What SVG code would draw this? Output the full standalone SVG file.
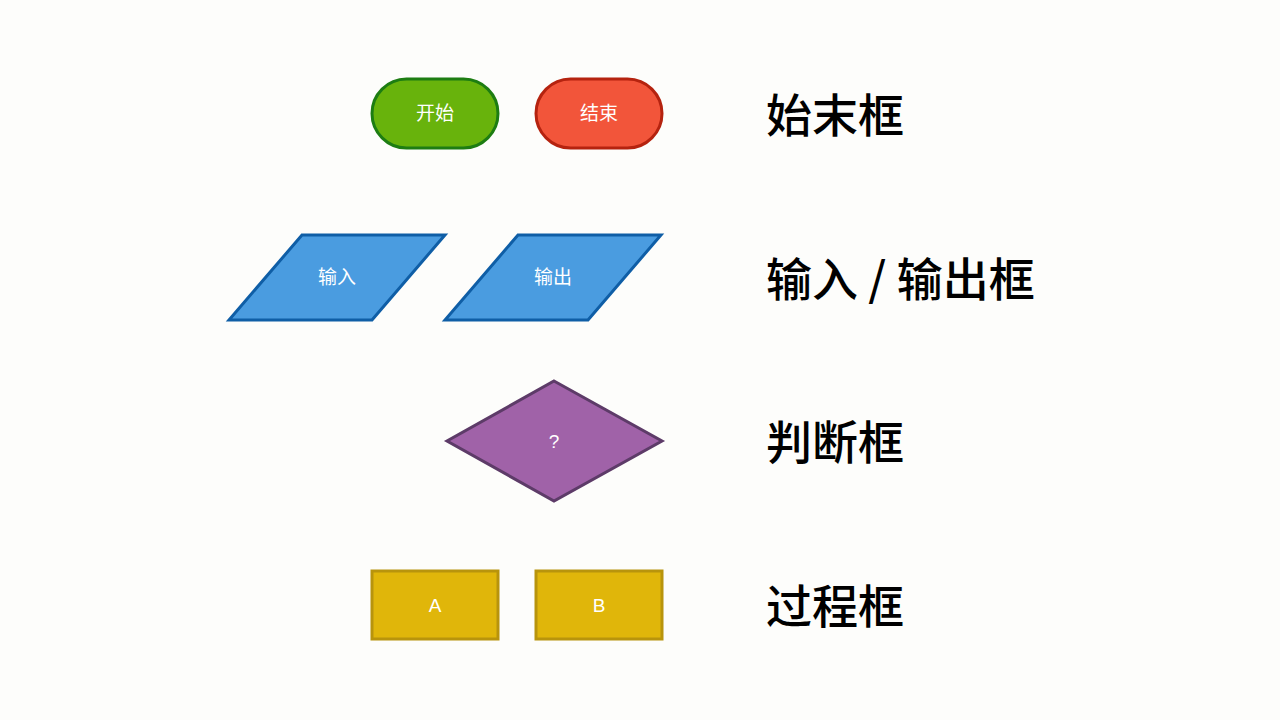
<svg xmlns="http://www.w3.org/2000/svg" width="1280" height="720" viewBox="0 0 1280 720">
<style>
.t{font-family:"Liberation Sans","Noto Sans CJK SC",sans-serif;font-size:19px;fill:#fff;text-anchor:middle;dominant-baseline:central}
.h{font-family:"Noto Sans CJK SC",sans-serif;font-size:46px;font-weight:500;fill:#000}
.s{stroke-width:3}
</style>
<rect width="1280" height="720" fill="#fdfdfb"/>
<g id="start"><rect x="372" y="79" width="126" height="69" rx="34.5" fill="#68b30c" stroke="#1d7d12" class="s"/><text x="435" y="113" class="t">开始</text></g>
<g id="end"><rect x="536" y="79" width="126" height="69" rx="34.5" fill="#f2553a" stroke="#b5230f" class="s"/><text x="599" y="113" class="t">结束</text></g>
<g id="input"><polygon points="302,235 445,235 372,320 229,320" fill="#4a9ce0" stroke="#0f5ea6" class="s"/><text x="337" y="277" class="t">输入</text></g>
<g id="output"><polygon points="518,235 661,235 588,320 445,320" fill="#4a9ce0" stroke="#0f5ea6" class="s"/><text x="553" y="277" class="t">输出</text></g>
<g id="decision"><polygon points="554,381 662,441 554,501 447,441" fill="#a062a8" stroke="#5d3b68" class="s"/><text x="554" y="441" class="t">?</text></g>
<g id="procA"><rect x="372" y="571" width="126" height="68" fill="#e0b60a" stroke="#b8940c" class="s"/><text x="435" y="605" class="t">A</text></g>
<g id="procB"><rect x="536" y="571" width="126" height="68" fill="#e0b60a" stroke="#b8940c" class="s"/><text x="599" y="605" class="t">B</text></g>
<g id="connectors"></g>
<g id="labels">
<text x="766" y="132" class="h">始末框</text>
<text x="766" y="296" class="h">输入 / 输出框</text>
<text x="766" y="459" class="h">判断框</text>
<text x="766" y="623" class="h">过程框</text>
</g>
</svg>
